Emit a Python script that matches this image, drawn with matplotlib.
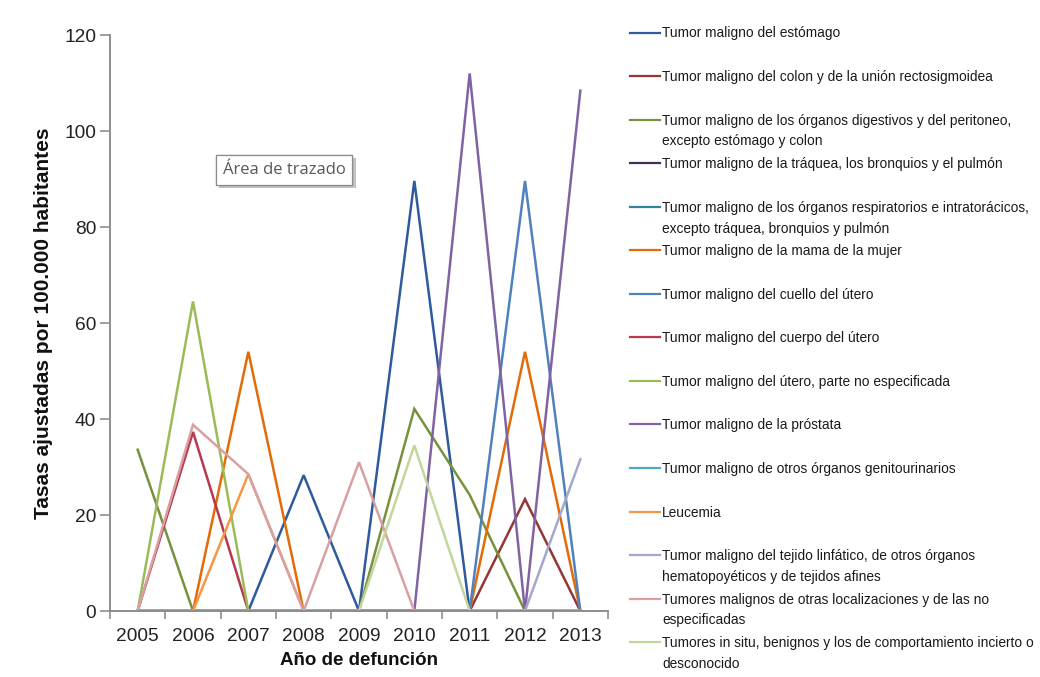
import matplotlib
matplotlib.use("Agg")
import matplotlib.pyplot as plt
from matplotlib.lines import Line2D
import matplotlib.patheffects as pe
import numpy as np

# Years of death (category axis)
years = ["2005", "2006", "2007", "2008", "2009", "2010", "2011", "2012", "2013"]

# Adjusted rates per 100,000 inhabitants, one list per cause
estomago = [0, 0, 0, 28.3, 0, 89.6, 0, 0, 0]
colon = [0, 0, 0, 0, 0, 0, 0, 23.3, 0]
digestivos = [33.6, 0, 0, 0, 0, 42.1, 24.2, 0, 0]
traquea = [0, 0, 0, 0, 0, 0, 0, 0, 0]
respiratorios = [0, 0, 0, 0, 0, 0, 0, 0, 0]
mama = [0, 0, 54.0, 0, 0, 0, 0, 54.0, 0]
cuello_utero = [0, 0, 0, 0, 0, 0, 0, 89.6, 0]
cuerpo_utero = [0, 37.3, 0, 0, 0, 0, 0, 0, 0]
utero_ne = [0, 64.5, 0, 0, 0, 0, 0, 0, 0]
prostata = [0, 0, 0, 0, 0, 0, 112.0, 0, 108.4]
genitourinarios = [0, 0, 0, 0, 0, 0, 0, 0, 0]
leucemia = [0, 0, 28.5, 0, 0, 0, 0, 0, 0]
linfatico = [0, 0, 0, 0, 0, 0, 0, 0, 31.6]
otras_localizaciones = [0, 38.8, 28.5, 0, 31.0, 0, 0, 0, 0]
in_situ = [0, 0, 0, 0, 0, 34.5, 0, 0, 0]

series_names = [
    "Tumor maligno del estómago",
    "Tumor maligno del colon y de la unión rectosigmoidea",
    "Tumor maligno de los órganos digestivos y del peritoneo,\nexcepto estómago y colon",
    "Tumor maligno de la tráquea, los bronquios y el pulmón",
    "Tumor maligno de los órganos respiratorios e intratorácicos,\nexcepto tráquea, bronquios y pulmón",
    "Tumor maligno de la mama de la mujer",
    "Tumor maligno del cuello del útero",
    "Tumor maligno del cuerpo del útero",
    "Tumor maligno del útero, parte no especificada",
    "Tumor maligno de la próstata",
    "Tumor maligno de otros órganos genitourinarios",
    "Leucemia",
    "Tumor maligno del tejido linfático, de otros órganos\nhematopoyéticos y de tejidos afines",
    "Tumores malignos de otras localizaciones y de las no\nespecificadas",
    "Tumores in situ, benignos y los de comportamiento incierto o\ndesconocido",
]
series_values = [
    estomago, colon, digestivos, traquea, respiratorios, mama, cuello_utero,
    cuerpo_utero, utero_ne, prostata, genitourinarios, leucemia, linfatico,
    otras_localizaciones, in_situ,
]
series_colors = [
    "#2F5A9C", "#943634", "#76923C", "#403152", "#31849B", "#E36C09",
    "#4F81BD", "#B8384E", "#9BBB59", "#8064A2", "#4BACC6", "#F79646",
    "#A5A8CC", "#D9A0A4", "#C3D69B",
]

W, H = 1040, 677
fig = plt.figure(figsize=(W / 100, H / 100), dpi=100)
fig.patch.set_facecolor("white")

ax_left, ax_right, ax_top, ax_bottom = 110, 608, 35, 611
ax = fig.add_axes([ax_left / W, 1 - ax_bottom / H,
                   (ax_right - ax_left) / W, (ax_bottom - ax_top) / H])

x = np.arange(len(years))
for vals, col in zip(series_values, series_colors):
    ax.plot(x, vals, color=col, lw=1.8, solid_joinstyle="miter", zorder=2)

ax.set_xlim(-0.5, len(years) - 0.5)
ax.set_ylim(0, 120)
ax.set_yticks(np.arange(0, 121, 20))

tick_font = {"family": ["Liberation Sans", "DejaVu Sans"], "size": 13.8}
ax.set_xticks(x)
ax.set_xticklabels(years, fontdict=tick_font)
ax.set_xticks(np.arange(-0.5, len(years), 1), minor=True)
ax.set_yticklabels([str(v) for v in range(0, 121, 20)], fontdict=tick_font)

axis_grey = "#868686"
ax.tick_params(axis="x", which="major", length=0, pad=12, colors="#222222")
ax.tick_params(axis="x", which="minor", length=6, width=1.1, color=axis_grey)
ax.tick_params(axis="y", which="major", length=7, width=1.1, color=axis_grey,
               pad=3, labelcolor="#222222")

for side in ("top", "right"):
    ax.spines[side].set_visible(False)
for side in ("left", "bottom"):
    ax.spines[side].set_color(axis_grey)
    ax.spines[side].set_linewidth(1.3)
    ax.spines[side].set_zorder(3)

label_family = ["Liberation Sans", "DejaVu Sans"]
ax.set_ylabel("Tasas ajustadas por 100.000 habitantes",
              fontdict={"family": label_family, "size": 15, "weight": "bold"},
              labelpad=8, color="#111111")
ax.set_xlabel("Año de defunción",
              fontdict={"family": label_family, "size": 13.5, "weight": "bold"},
              labelpad=5, color="#111111")

# Hover tooltip over the plot area
tip = fig.text(284 / W, 1 - 169.5 / H, "Área de trazado",
               family=["Open Sans", "DejaVu Sans"], size=12, color="#595959",
               ha="center", va="center",
               bbox=dict(boxstyle="square,pad=0.42", fc="white",
                         ec="#8c8c8c", lw=0.9))
tip.get_bbox_patch().set_path_effects(
    [pe.withSimplePatchShadow(offset=(2.5, -2.5), shadow_rgbFace="#9a9a9a",
                              alpha=0.6), pe.Normal()])

# Legend drawn entry by entry, line handle aligned with the first text line
legend_font = ["Liberation Sans Narrow", "Liberation Sans", "DejaVu Sans"]
first_y = 32.5
step = 43.55
for i, (name, col) in enumerate(zip(series_names, series_colors)):
    yc = first_y + i * step
    fig.add_artist(Line2D([630 / W, 660 / W], [1 - yc / H, 1 - yc / H],
                          transform=fig.transFigure, color=col, lw=1.6))
    fig.text(662 / W, 1 - (yc - 6.0) / H, name, family=legend_font,
             size=9.95, color="#1a1a1a", ha="left", va="top",
             linespacing=1.62)

fig.savefig("out.png", dpi=100, facecolor="white")
